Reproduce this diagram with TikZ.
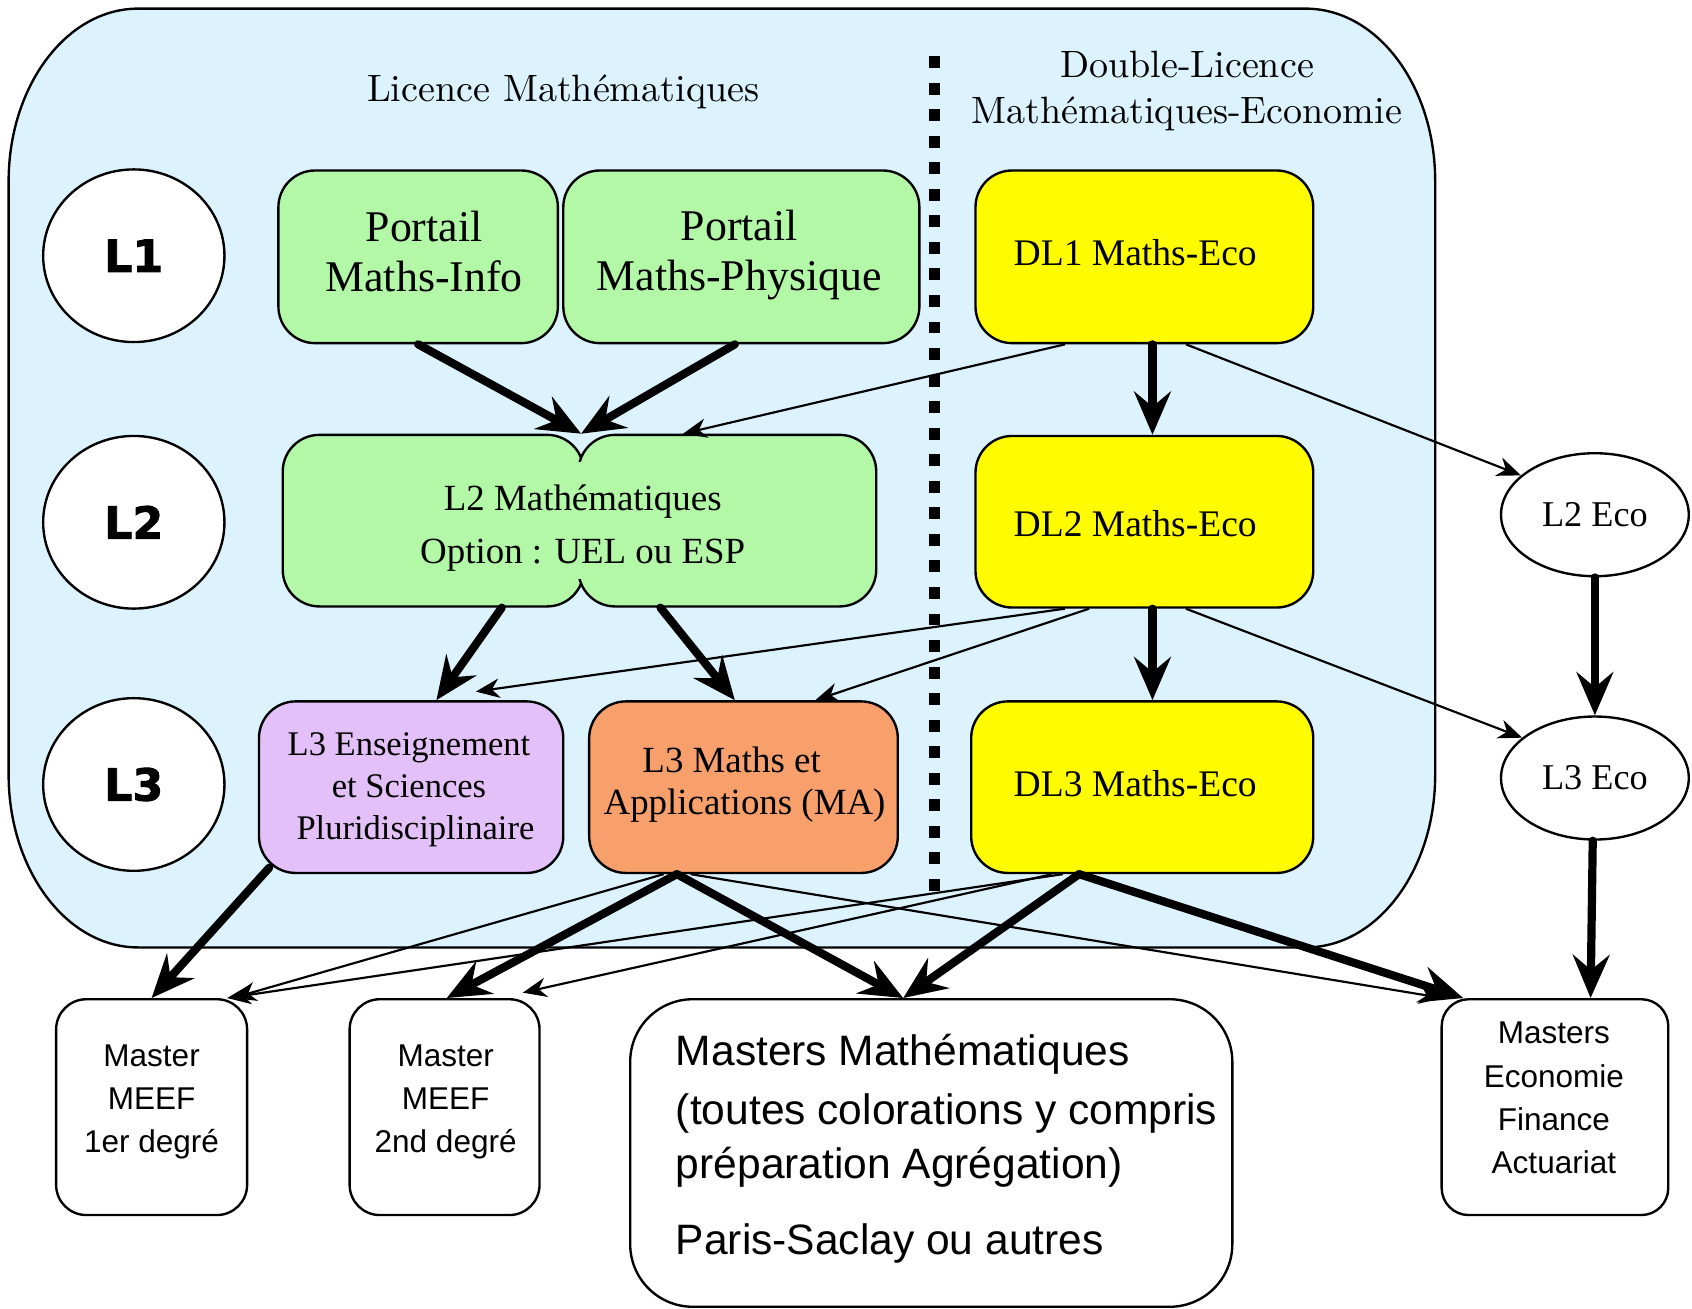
\documentclass[tikz,border=0pt]{standalone}
\usepackage{fontspec}
\newfontfamily\tms{Liberation Serif}
\newfontfamily\hlv{Liberation Sans}
\newfontfamily\heavy{DejaVu Sans Bold}[FakeBold=2]
\newfontfamily\cmten{lmroman10-regular}[Extension=.otf]
\usetikzlibrary{arrows.meta,shapes.geometric,calc}
\definecolor{bgblue}{RGB}{220,243,254}
\definecolor{mgreen}{RGB}{178,248,166}
\definecolor{mpurple}{RGB}{228,192,248}
\definecolor{morange}{RGB}{248,160,108}
\definecolor{myellow}{RGB}{255,252,0}
\begin{document}
\begin{tikzpicture}[x=0.5pt,y=-0.5pt,
  box/.style={draw, line width=1.1pt, rounded corners=17pt, inner sep=0pt, align=center},
  txt/.style={inner sep=0pt, align=center},
  lvl/.style={ellipse, draw, fill=white, line width=1.1pt, minimum width=84pt, minimum height=80pt, inner sep=0pt, font=\heavy\fontsize{20.5}{24}\selectfont},
  eco/.style={ellipse, draw, fill=white, line width=1.1pt, minimum width=87pt, minimum height=57pt, inner sep=0pt, font=\tms\fontsize{16.8}{20}\selectfont},
  master/.style={box, fill=white, minimum height=100pt},
  mtxt/.style={txt, font=\hlv\fontsize{14.6}{20}\selectfont},
  dltxt/.style={txt, font=\tms\fontsize{17.4}{20}\selectfont},
  big/.style={line width=3.8pt, line cap=round, -{Stealth[length=20pt,width=17pt,inset=7pt]}},
  small/.style={line width=1pt, -{Stealth[length=11pt,width=9pt,inset=3.5pt]}},
  title/.style={font=\cmten\fontsize{17.65}{21.5}\selectfont, align=center}]
\useasboundingbox (0,0) rectangle (1568,1213);
% background
\path[fill=bgblue, draw, line width=1.1pt] (8,168)
  arc[start angle=180,end angle=90,x radius=60pt,y radius=80pt] -- (1210,8)
  arc[start angle=90,end angle=0,x radius=60pt,y radius=80pt] -- (1330,718)
  arc[start angle=0,end angle=-90,x radius=60pt,y radius=80pt] -- (128,878)
  arc[start angle=270,end angle=180,x radius=60pt,y radius=80pt] -- cycle;
\draw[line width=5.5pt, dash pattern=on 5.5pt off 6.8pt] (866,52) -- (866,830);
% titles
\node[title] (tlic) at (522,85) {Licence Mathématiques};
\node[title] (tdl) at (1100,84.5) {Double-Licence\\Mathématiques-Economie};
% levels
\node[lvl] (n1) at (124,237) {L1};
\node[lvl] (n2) at (124,484) {L2};
\node[lvl] (n3) at (124,727) {L3};
% licence boxes
\node[box, fill=mgreen, minimum width=129.5pt, minimum height=80pt] (pmi) at (387.5,238) {};
\node[txt, font=\tms\fontsize{20.3}{23}\selectfont] (pmit) at (393,233) {Portail\\Maths-Info};
\node[box, fill=mgreen, minimum width=165pt, minimum height=80pt] (pmp) at (687,238) {};
\node[txt, font=\tms\fontsize{20.3}{23}\selectfont] (pmpt) at (685,236.5) {Portail\\Maths-Physique};
\node[box, fill=mgreen, minimum width=139.5pt, minimum height=79.5pt] (l2a) at (401.5,482.5) {};
\node[box, fill=mgreen, minimum width=138pt, minimum height=79.5pt] (l2b) at (674,482.5) {};
\fill[mgreen] (528,428) rectangle (549,537);
\node[txt, font=\tms\fontsize{17.1}{24.5}\selectfont] (l2) at (540,489.5) {L2 Mathématiques\\Option : UEL ou ESP};
\coordinate (l2top) at ($(l2a.north east)!0.5!(l2b.north west)$);
\node[box, fill=mpurple, minimum width=141pt, minimum height=79.5pt] (l3e) at (381,729.5) {};
\node[txt, font=\tms\fontsize{16}{19.5}\selectfont] (l3et) at (379,731.5) {L3 Enseignement\\et Sciences\\\hspace*{6pt}Pluridisciplinaire};
\node[box, fill=morange, minimum width=143pt, minimum height=79.5pt] (l3ma) at (689,729.5) {};
\node[txt, font=\tms\fontsize{17.1}{19.5}\selectfont] (l3mat) at (690,727.5) {L3 Maths et\hspace*{12pt}\\Applications (MA)};
% double licence
\node[box, fill=myellow, minimum width=156.5pt, minimum height=80pt] (dl1) at (1060.5,238) {};
\node[dltxt] (dl1t) at (1052,234) {DL1 Maths-Eco};
\node[box, fill=myellow, minimum width=156.5pt, minimum height=79.5pt] (dl2) at (1060.5,483.5) {};
\node[dltxt] (dl2t) at (1052,485.5) {DL2 Maths-Eco};
\node[box, fill=myellow, minimum width=158.5pt, minimum height=79.5pt] (dl3) at (1058.5,729.5) {};
\node[dltxt] (dl3t) at (1052,726) {DL3 Maths-Eco};
% eco
\node[eco] (l2eco) at (1478,477) {L2 Eco};
\node[eco] (l3eco) at (1478,721) {L3 Eco};
% masters
\node[master, rounded corners=14pt, minimum width=88.5pt] (meef1) at (140.5,1026) {};
\node[mtxt] (meef1t) at (140.5,1021) {Master\\MEEF\\1er degré};
\node[master, rounded corners=14pt, minimum width=88pt] (meef2) at (412,1026) {};
\node[mtxt] (meef2t) at (413,1021) {Master\\MEEF\\2nd degré};
\node[box, fill=white, rounded corners=29pt, minimum width=279pt, minimum height=142.5pt] (mm) at (863,1068.5) {};
\node[anchor=north west, inner sep=0pt, align=left, font=\hlv\fontsize{19.7}{25}\selectfont] (mmt) at (626,958) {Masters Mathématiques\\[2.5pt](toutes colorations y compris\\préparation Agrégation)\\[10pt]Paris-Saclay ou autres};
\node[master, rounded corners=12.5pt, minimum width=105pt] (meco) at (1441,1026) {};
\node[mtxt] (mecot) at (1440,1017.5) {Masters\\Economie\\Finance\\Actuariat};
% thick arrows
\draw[big] (pmi.south) -- (l2top);
\draw[big] ([xshift=-3pt]pmp.south) -- (l2top);
\draw[big] ([xshift=31.75pt]l2a.south) -- ([xshift=11.7pt]l3e.north);
\draw[big] ([xshift=-31pt]l2b.south) -- ([xshift=-4pt]l3ma.north);
\draw[big] ([xshift=3.75pt]dl1.south) -- ([xshift=3.75pt]dl2.north);
\draw[big] ([xshift=3.75pt]dl2.south) -- ([xshift=4.75pt]dl3.north);
\draw[big] (l2eco.south) -- (l3eco.north);
\draw[big] ([xshift=-1pt]l3eco.south) -- ([xshift=16.5pt]meco.north);
\draw[big] ([xshift=5.3pt,yshift=3pt]l3e.south west) -- (meef1.north);
\draw[big] ([xshift=-30.85pt]l3ma.south) -- ([xshift=1pt]meef2.north);
\draw[big] ([xshift=-30.85pt]l3ma.south) -- ([xshift=-13pt]mm.north);
\draw[big] ([xshift=-29.25pt]dl3.south) -- ([xshift=-13pt]mm.north);
\draw[big] ([xshift=-29.25pt]dl3.south) -- ([xshift=-42.5pt]meco.north);
% thin arrows
\draw[small] ([xshift=-36.75pt]dl1.south) -- ([xshift=-20.5pt]l2b.north);
\draw[small] ([xshift=19.25pt]dl1.south) -- (l2eco.152);
\draw[small] ([xshift=-36.9pt]dl2.south) -- ([xshift=30pt,yshift=4pt]l3e.north);
\draw[small] ([xshift=-25.6pt]dl2.south) -- ([xshift=33.25pt]l3ma.north);
\draw[small] ([xshift=19.25pt]dl2.south) -- (l3eco.151);
\draw[small] ([xshift=-37pt]l3ma.south) -- ([xshift=37.5pt]meef1.north);
\draw[small] ([xshift=-36.75pt]dl3.south) -- ([xshift=35pt]meef1.north);
\draw[small] ([xshift=-41.75pt]dl3.south) -- ([xshift=36.25pt,yshift=2.5pt]meef2.north);
\draw[small] ([xshift=-24.5pt]l3ma.south) -- ([xshift=-52pt]meco.north);
\end{tikzpicture}
\end{document}
